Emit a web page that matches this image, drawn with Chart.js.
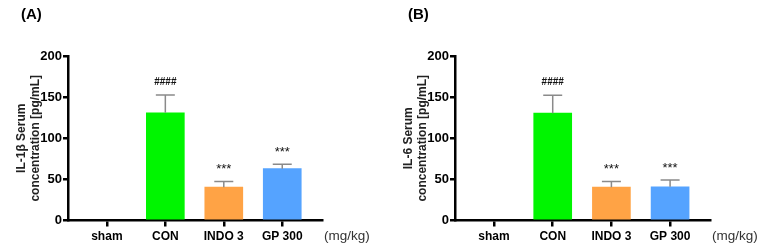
<!DOCTYPE html>
<html lang="en">
<head>
<meta charset="UTF-8">
<title>IL-1β / IL-6 Serum</title>
<script src="https://cdn.jsdelivr.net/npm/chart.js"></script>
<style>
  body { margin: 0; background: #fff; }
  .wrap { display: flex; width: 759px; height: 247px; }
  canvas { display: block; }
</style>
</head>
<body>
<div class="wrap">
  <canvas id="chartA" width="387" height="247"></canvas>
  <canvas id="chartB" width="372" height="247"></canvas>
</div>
<script>
const groups = ["sham", "CON", "INDO 3", "GP 300"];
const barColors = ["rgba(0,0,0,0)", "#00f500", "#ffa345", "#55a3ff"];
const yTicks = [0, 50, 100, 150, 200];
const unitLabel = "(mg/kg)";

// (A) IL-1β
const il1bMean = [0, 131, 40.5, 63];
const il1bErr = [0, 21.5, 7, 5.3];
const il1bMarks = ["", "####", "***", "***"];

// (B) IL-6
const il6Mean = [0, 130.5, 40.5, 41];
const il6Err = [0, 21.8, 7, 8.2];
const il6Marks = ["", "####", "***", "***"];

const FONT = "Arial, 'Liberation Sans', sans-serif";
Chart.defaults.font.family = FONT;

// error bars, significance marks, panel tag and unit text
const extras = {
    id: "extras",
    afterDatasetsDraw(chart, args, opts) {
        const ctx = chart.ctx;
        const xs = chart.scales.x, ys = chart.scales.y;
        ctx.save();
        opts.means.forEach((m, i) => {
            const err = opts.errs[i];
            if (!err) return;
            const px = xs.getPixelForValue(i);
            const base = ys.getPixelForValue(m);
            const top = ys.getPixelForValue(m + err);
            ctx.strokeStyle = "#8a8a8a";
            ctx.lineWidth = 1.5;
            ctx.beginPath();
            ctx.moveTo(px, base);
            ctx.lineTo(px, top);
            ctx.moveTo(px - 9.5, top);
            ctx.lineTo(px + 9.5, top);
            ctx.stroke();

            const mark = opts.marks[i];
            if (mark) {
                ctx.fillStyle = "#111";
                ctx.textAlign = "center";
                ctx.textBaseline = "alphabetic";
                if (mark[0] === "#") {
                    ctx.font = "bold 10px " + FONT;
                    ctx.fillText(mark, px, top - 10);
                } else {
                    ctx.font = "13px " + FONT;
                    ctx.fillText(mark, px, top - 8);
                }
            }
        });
        ctx.restore();
    },
    afterDraw(chart, args, opts) {
        const ctx = chart.ctx;
        ctx.save();
        ctx.fillStyle = "#000";
        ctx.textBaseline = "middle";
        ctx.textAlign = "left";
        ctx.font = "bold 15px " + FONT;
        ctx.fillText(opts.tag, 21, 15);
        ctx.fillStyle = "#333";
        ctx.font = "13.5px " + FONT;
        ctx.fillText(unitLabel, chart.chartArea.right + 2, 236);
        ctx.restore();
    }
};

function makeChart(id, means, errs, marks, title, tag, rightPad) {
    return new Chart(document.getElementById(id), {
        type: "bar",
        data: {
            datasets: [{
                data: means.map((v, i) => ({ x: i, y: v })),
                backgroundColor: barColors,
                borderWidth: 0,
                barThickness: 38
            }]
        },
        options: {
            responsive: false,
            animation: false,
            layout: { padding: { left: 0, right: rightPad, top: 56, bottom: 0 } },
            plugins: {
                legend: { display: false },
                tooltip: { enabled: false },
                extras: { means, errs, marks, tag }
            },
            scales: {
                x: {
                    type: "linear",
                    min: -0.665,
                    max: 3.68,
                    offset: false,
                    afterFit(s) { s.height = 26.5; },
                    afterBuildTicks(s) { s.ticks = groups.map((g, i) => ({ value: i })); },
                    border: { color: "#000", width: 2.5 },
                    grid: { offset: false, drawOnChartArea: false, tickLength: 6, color: "#000", lineWidth: 2.5 },
                    ticks: {
                        autoSkip: false,
                        maxRotation: 0,
                        padding: 3,
                        color: "#000",
                        font: { size: 12, weight: "bold" },
                        callback: v => groups[v]
                    }
                },
                y: {
                    min: 0,
                    max: 200,
                    afterFit(s) { s.width = 68; },
                    afterBuildTicks(s) { s.ticks = yTicks.map(v => ({ value: v })); },
                    border: { color: "#000", width: 2.5 },
                    grid: { drawOnChartArea: false, tickLength: 5, color: "#000", lineWidth: 2.5 },
                    ticks: { padding: 1, color: "#000", font: { size: 13, weight: "bold" } },
                    title: {
                        display: true,
                        text: title,
                        color: "#222",
                        font: { size: 12, weight: "bold", lineHeight: "13.5px" },
                        padding: { top: 15, bottom: 0 }
                    }
                }
            }
        },
        plugins: [extras]
    });
}

makeChart("chartA", il1bMean, il1bErr, il1bMarks, ["IL-1β Serum", "concentration [pg/mL]"], "(A)", 65);
makeChart("chartB", il6Mean, il6Err, il6Marks, ["IL-6 Serum", "concentration [pg/mL]"], "(B)", 49);
</script>
</body>
</html>
